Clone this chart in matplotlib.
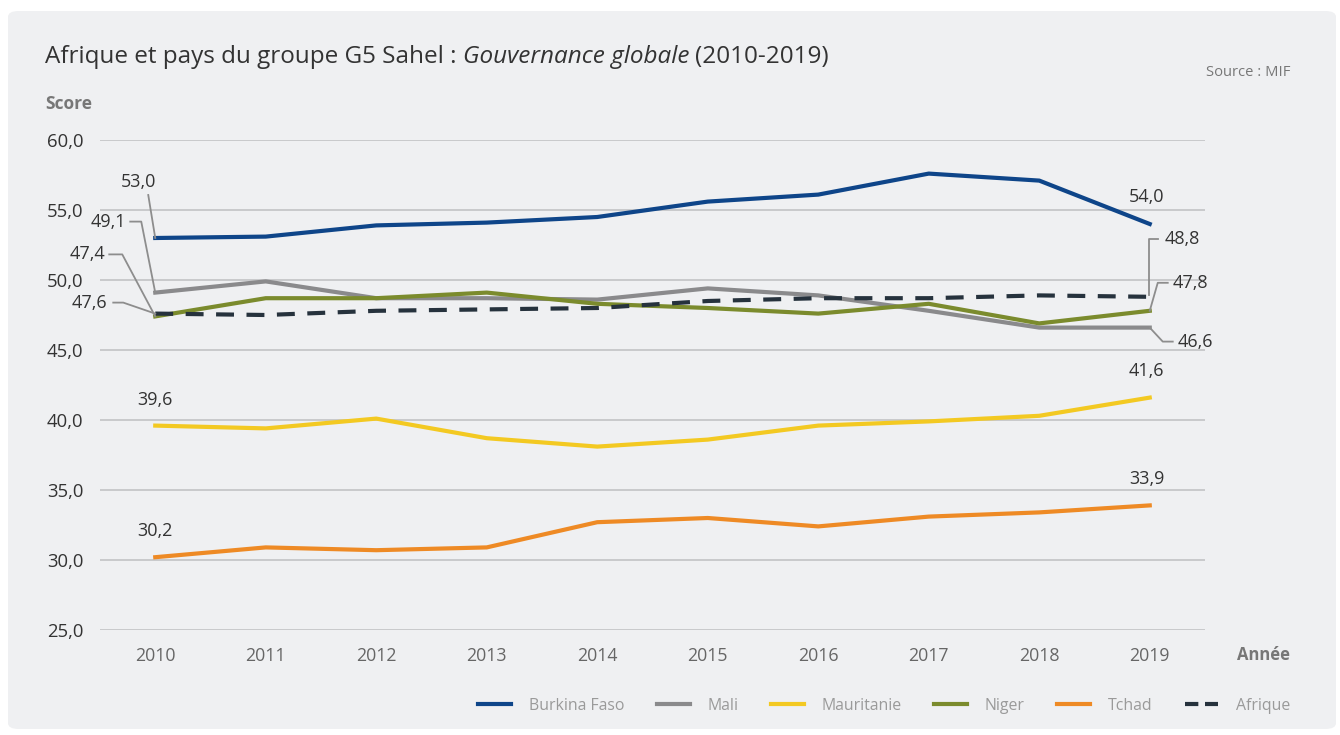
import matplotlib.pyplot as plt
from matplotlib.lines import Line2D
from matplotlib.patches import FancyBboxPatch
from matplotlib.transforms import IdentityTransform

# ----------------------------------- data -----------------------------------
years = [2010, 2011, 2012, 2013, 2014, 2015, 2016, 2017, 2018, 2019]
burkina = [53.0, 53.1, 53.9, 54.1, 54.5, 55.6, 56.1, 57.6, 57.1, 54.0]
mali = [49.1, 49.9, 48.7, 48.7, 48.6, 49.4, 48.9, 47.8, 46.6, 46.6]
mauritanie = [39.6, 39.4, 40.1, 38.7, 38.1, 38.6, 39.6, 39.9, 40.3, 41.6]
niger = [47.4, 48.7, 48.7, 49.1, 48.3, 48.0, 47.6, 48.3, 46.9, 47.8]
tchad = [30.2, 30.9, 30.7, 30.9, 32.7, 33.0, 32.4, 33.1, 33.4, 33.9]
afrique = [47.6, 47.5, 47.8, 47.9, 48.0, 48.5, 48.7, 48.7, 48.9, 48.8]
yticks = [25, 30, 35, 40, 45, 50, 55, 60]

W, H = 1340, 735
plt.rcParams['font.family'] = ['Open Sans', 'DejaVu Sans']

fig = plt.figure(figsize=(W / 100, H / 100), dpi=100, facecolor='white')

# rounded grey panel
panel = FancyBboxPatch((8 / W, 6 / H), 1328 / W, 718 / H,
                       boxstyle='round,pad=0,rounding_size=0.008',
                       transform=fig.transFigure, facecolor='#eff0f2', edgecolor='none', zorder=0)
fig.add_artist(panel)

ax = fig.add_axes([100 / W, (H - 630) / H, 1105 / W, 490 / H])
ax.set_facecolor('none')
ax.set_xlim(2009.5, 2019.5)
ax.set_ylim(25, 60)
for s in ax.spines.values():
    s.set_visible(False)
ax.set_yticks(yticks)
ax.set_yticklabels(['{:.1f}'.format(v).replace('.', ',') for v in yticks])
ax.set_xticks(years)
ax.set_xticklabels([str(y) for y in years])
ax.tick_params(axis='y', length=0, pad=12, labelsize=13.3, labelcolor='#333333')
ax.tick_params(axis='x', length=0, pad=12, labelsize=12.8, labelcolor='#666666')
ax.grid(axis='y', color='#c6c7c9', lw=1.3)
ax.set_axisbelow(True)

series = [
    ('Burkina Faso', burkina, '#0e4589', None),
    ('Mali', mali, '#8a8a8c', None),
    ('Mauritanie', mauritanie, '#f3c922', None),
    ('Niger', niger, '#7b8b2d', None),
    ('Tchad', tchad, '#ee8a25', None),
    ('Afrique', afrique, '#26323d', (4.3, 3)),
]
handles = []
for name, vals, col, dash in series:
    if dash:
        ax.plot(years, vals, color=col, lw=3, dashes=dash, zorder=4)
        # shorter dashes for the legend sample
        handles.append(Line2D([], [], color=col, lw=3, dashes=(3.2, 1.6), label=name))
    else:
        ln, = ax.plot(years, vals, color=col, lw=3, label=name, solid_joinstyle='round', zorder=3)
        handles.append(ln)

# ----------------------------------- value labels with leader lines -----------------------------------
fig.canvas.draw()


def label(x, y, text, off, ha='center', pts=None):
    # offsets in pixels, image convention (down = positive)
    px, py = ax.transData.transform((x, y))
    if pts:
        xs = [px + dx for dx, dy in pts]
        ys = [py - dy for dx, dy in pts]
        fig.add_artist(Line2D(xs, ys, transform=IdentityTransform(), color='#8d8d8d', lw=1.3))
    fig.text(px + off[0], py - off[1], text, transform=IdentityTransform(), ha=ha, va='center',
             fontsize=13, color='#333333')


label(2010, burkina[0], '53,0', (-17, -56), pts=[(-7, -43), (0, 0)])
label(2010, mali[0], '49,1', (-29, -71), ha='right', pts=[(-25, -71), (-14, -71), (0, 0)])
label(2010, niger[0], '47,4', (-50, -62), ha='right', pts=[(-46, -62), (-33, -62), (0, 0)])
label(2010, afrique[0], '47,6', (-48, -11), ha='right', pts=[(-42, -11), (-32, -11), (0, 0)])
label(2010, mauritanie[0], '39,6', (0, -26))
label(2010, tchad[0], '30,2', (0, -26))

label(2019, burkina[-1], '54,0', (-3, -27))
label(2019, afrique[-1], '48,8', (15, -58), ha='left', pts=[(-1, -2), (-1, -58), (8, -58)])
label(2019, niger[-1], '47,8', (23, -28), ha='left', pts=[(0, 0), (8, -28), (18, -28)])
label(2019, mali[-1], '46,6', (28, 14), ha='left', pts=[(0, 0), (13, 14), (23, 14)])
label(2019, mauritanie[-1], '41,6', (-3, -27))
label(2019, tchad[-1], '33,9', (-3, -26))

# ----------------------------------- titles and captions -----------------------------------
r = fig.canvas.get_renderer()
t1 = fig.text(45 / W, 1 - 57 / H, 'Afrique et pays du groupe G5 Sahel : ', fontsize=17.5,
              color='#333333', va='center')
bb = t1.get_window_extent(r)
t2 = fig.text(bb.x1 / W, 1 - 57 / H, 'Gouvernance globale', fontsize=17.5, style='italic',
              color='#333333', va='center')
bb = t2.get_window_extent(r)
fig.text(bb.x1 / W + 6 / W, 1 - 57 / H, '(2010-2019)', fontsize=17.5, color='#333333', va='center')

fig.text(1290 / W, 1 - 72 / H, 'Source : MIF', fontsize=10.6, color='#777777', ha='right', va='center')
fig.text(45 / W, 1 - 104 / H, 'Score', fontsize=12.5, color='#777777', weight='bold', va='center')
fig.text(1290 / W, 1 - 655 / H, 'Année', fontsize=12, color='#777777', weight='bold',
         ha='right', va='center')

leg = fig.legend(handles=handles, loc='center right', bbox_to_anchor=(1304 / W, 1 - 706 / H),
                 ncol=6, frameon=False, fontsize=11.4, handlelength=2.1, handletextpad=1.1,
                 columnspacing=2.05)
for t in leg.get_texts():
    t.set_color('#9a9a9a')

fig.savefig('out.png', dpi=100, facecolor='white')
